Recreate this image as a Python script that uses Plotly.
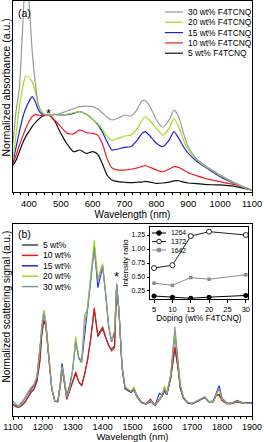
import plotly.graph_objects as go

# ---------------- Panel (a): absorbance ----------------
wl_a = [350, 360, 370, 380, 390, 400, 410, 420, 430, 440, 450, 460, 470, 480, 490, 500,
        520, 540, 560, 580, 600,
        615, 630, 645, 660, 680, 700, 720, 740, 755, 765, 780, 800, 820, 840, 855, 870, 885, 900,
        925, 950, 975, 1000, 1025, 1050, 1075, 1100]
abs_5 = [14.1, 16.8, 21.1, 25.5, 29.0, 31.6, 34.2, 36.3, 38.0, 39.4, 40.1, 40.3, 39.4, 37.3, 34.2, 30.7,
         25.1, 21.1, 22.0, 20.2, 21.1,
         19.9, 15.0, 8.9, 6.3, 5.4, 5.1, 4.9, 5.1, 5.2, 5.6, 5.2, 4.5, 4.7, 5.2, 5.8, 5.9, 5.2, 4.7,
         4.4, 4.0, 3.8, 3.7, 3.3, 2.8, 1.9, 1.0]
abs_10 = [15.0, 19.4, 24.6, 29.0, 33.3, 36.8, 39.4, 40.5, 40.3, 40.0, 40.1, 40.3, 39.4, 37.7, 36.0, 34.2,
          30.7, 30.4, 32.5, 31.1, 30.7,
          29.8, 25.5, 17.6, 12.7, 11.5, 11.5, 11.9, 12.6, 13.4, 13.8, 12.9, 11.5, 10.6, 12.0, 13.3, 12.9, 11.5, 10.1,
          8.6, 7.2, 6.3, 5.4, 4.5, 3.7, 2.4, 1.0]
abs_15 = [15.9, 23.7, 31.6, 38.6, 43.8, 47.3, 49.9, 47.3, 42.9, 40.8, 40.3, 40.3, 40.5, 40.7, 40.5, 40.3,
          40.5, 41.2, 42.1, 40.7, 38.0,
          35.6, 31.6, 26.4, 22.0, 22.5, 23.4, 23.7, 27.2, 30.7, 31.6, 29.3, 25.5, 23.7, 27.2, 31.6, 28.1, 23.7, 20.2,
          16.4, 13.3, 10.6, 8.0, 5.9, 4.0, 2.4, 1.0]
abs_20 = [16.8, 30.7, 44.7, 54.3, 60.7, 60.0, 57.8, 52.5, 45.5, 42.1, 40.7, 40.3, 40.5, 40.7, 40.5, 40.3,
          40.7, 41.5, 42.1, 40.7, 38.0,
          36.0, 32.8, 29.3, 27.2, 28.1, 29.3, 29.8, 33.3, 37.7, 39.4, 37.3, 33.3, 29.8, 33.3, 38.6, 34.2, 27.2, 22.0,
          17.1, 13.8, 11.2, 8.6, 6.3, 4.2, 2.4, 1.0]
abs_30 = [25.5, 42.9, 54.3, 85.0, 115.0, 100.0, 74.3, 56.9, 45.5, 41.5, 40.3, 40.3, 40.1, 40.3, 40.7, 41.2,
          42.4, 43.6, 44.7, 45.0, 44.7,
          43.6, 41.5, 39.1, 37.7, 38.6, 40.3, 39.8, 43.3, 47.8, 47.8, 44.7, 37.7, 33.9, 37.7, 42.9, 39.4, 30.7, 23.7,
          17.6, 14.1, 11.5, 8.9, 6.6, 4.5, 2.6, 1.0]

# ---------------- Panel (b): scattering ----------------
wl_b = [1100, 1110, 1120, 1130, 1140, 1150, 1160, 1170, 1180, 1190, 1196, 1203, 1210, 1220, 1230, 1240, 1250,
        1258, 1264, 1270, 1280, 1290, 1300, 1310, 1320, 1330, 1340, 1350, 1360, 1372, 1384, 1400, 1410, 1420,
        1430, 1440, 1447, 1455, 1465, 1475, 1485, 1495, 1505, 1515, 1530, 1545, 1560, 1575, 1590, 1600, 1607,
        1615, 1628, 1642, 1652, 1660, 1670, 1685, 1700, 1720, 1742, 1755, 1770, 1780, 1790, 1800, 1815, 1830,
        1850, 1865, 1880, 1900]
sc_5 = [35, 28, 26, 32, 41, 56, 70, 79, 103, 163, 238, 285, 270, 171, 79, 44, 42,
        86, 140, 111, 50, 76, 101, 128, 101, 90, 125, 168, 228, 318, 238, 261, 235, 211,
        201, 211, 391, 308, 146, 82, 76, 71, 78, 57, 40, 36, 48, 32, 47, 61, 76,
        63, 113, 203, 145, 82, 54, 39, 36, 45, 56, 42, 42, 61, 65, 46, 37, 37,
        42, 39, 38, 37]
sc_10 = [33, 30, 25, 33, 43, 58, 73, 81, 105, 168, 243, 288, 273, 173, 81, 45, 43,
         88, 143, 113, 51, 78, 103, 133, 103, 93, 128, 173, 233, 325, 243, 268, 238, 213,
         195, 205, 393, 311, 148, 83, 77, 73, 80, 58, 41, 37, 51, 33, 49, 63, 78,
         65, 115, 208, 148, 83, 55, 40, 36, 46, 58, 43, 43, 63, 63, 47, 37, 37,
         43, 40, 38, 38]
sc_15 = [45, 33, 30, 40, 53, 68, 81, 91, 115, 198, 268, 315, 281, 175, 81, 45, 46,
         95, 158, 123, 61, 93, 141, 228, 173, 161, 243, 323, 413, 508, 385, 448, 368, 268,
         223, 251, 393, 311, 148, 85, 78, 71, 83, 61, 41, 35, 43, 31, 68, 61, 85,
         66, 121, 248, 161, 91, 55, 40, 37, 46, 55, 43, 45, 68, 91, 53, 40, 38,
         47, 41, 41, 40]
sc_20 = [43, 36, 28, 38, 58, 73, 86, 95, 118, 203, 273, 318, 283, 178, 83, 46, 45,
         93, 148, 118, 58, 85, 143, 238, 178, 163, 273, 333, 423, 528, 413, 458, 373, 273,
         228, 253, 395, 313, 153, 88, 81, 73, 88, 58, 43, 36, 46, 33, 48, 63, 91,
         68, 123, 253, 163, 93, 58, 41, 38, 48, 58, 43, 43, 63, 81, 51, 38, 38,
         45, 41, 38, 38]
sc_30 = [40, 35, 27, 37, 55, 70, 83, 93, 116, 201, 271, 311, 278, 173, 81, 45, 44,
         91, 145, 116, 57, 83, 140, 223, 175, 168, 305, 318, 408, 501, 403, 451, 368, 271,
         225, 255, 398, 315, 151, 86, 79, 75, 81, 59, 42, 37, 45, 33, 51, 65, 83,
         67, 125, 268, 168, 91, 57, 42, 38, 47, 57, 45, 43, 65, 83, 51, 39, 38,
         45, 42, 39, 38]

# ---------------- Inset: intensity ratios ----------------
doping = [5, 10, 15, 20, 30]
ratio_1264 = [0.16, 0.14, 0.12, 0.14, 0.17]
ratio_1372 = [0.66, 0.71, 1.23, 1.31, 1.25]
ratio_1642 = [0.39, 0.35, 0.49, 0.46, 0.54]

labels_a = ["5 wt% F4TCNQ", "10 wt% F4TCNQ", "15 wt% F4TCNQ", "20 wt% F4TCNQ", "30 wt% F4TCNQ"]
labels_b = ["5 wt%", "10 wt%", "15 wt%", "20 wt%", "30 wt%"]
colors_a = ["#111111", "#ee1c24", "#1f1fe6", "#9de01a", "#9a9a9a"]
colors_b = ["#444444", "#e8141c", "#2222e0", "#96dc14", "#8a9696"]

FONT = "Arial, 'Liberation Sans', sans-serif"
W, H = 264, 442
L, R, T, B = 13, 12, 1, 26
PW, PH = W - L - R, H - T - B


def fx(p):  # pixel x -> paper
    return (p - L) / PW


def fy(p):  # pixel y -> paper
    return (H - B - p) / PH


fig = go.Figure()

series_a = [abs_5, abs_10, abs_15, abs_20, abs_30]
for lab, col, ys in zip(labels_a, colors_a, series_a):
    fig.add_trace(go.Scatter(x=wl_a, y=ys, mode="lines", name=lab, xaxis="x", yaxis="y",
                             line=dict(color=col, width=1.2, shape="spline", smoothing=0.6),
                             showlegend=False))

series_b = [sc_5, sc_10, sc_15, sc_20, sc_30]
for lab, col, ys in zip(labels_b, colors_b, series_b):
    fig.add_trace(go.Scatter(x=wl_b, y=ys, mode="lines", name=lab, xaxis="x2", yaxis="y2",
                             line=dict(color=col, width=1.1), showlegend=False))

inset = [("1264", ratio_1264, "#000000", dict(symbol="circle", size=5, color="#000000")),
         ("1372", ratio_1372, "#222222", dict(symbol="circle", size=5, color="white",
                                              line=dict(color="#222222", width=1))),
         ("1642", ratio_1642, "#8a8a8a", dict(symbol="square", size=3.5, color="#8a8a8a"))]
for lab, ys, col, mk in inset:
    fig.add_trace(go.Scatter(x=doping, y=ys, mode="lines+markers", name=lab, xaxis="x3", yaxis="y3",
                             line=dict(color=col, width=1), marker=mk, showlegend=False))

axis_common = dict(showline=True, linecolor="black", linewidth=1, mirror=True, showgrid=False,
                   zeroline=False, automargin=False, tickcolor="black")

fig.update_layout(
    width=W, height=H, margin=dict(l=L, r=R, t=T, b=B),
    paper_bgcolor="white", plot_bgcolor="white",
    font=dict(family=FONT, color="black", size=10),
    xaxis=dict(axis_common, domain=[0, 1], anchor="y", range=[350, 1100], dtick=100, tick0=0,
               ticks="outside", ticklen=3, tickfont=dict(size=9.5),
               minor=dict(dtick=25, ticks="outside", ticklen=2, tickcolor="black"),
               title=dict(text="Wavelength (nm)", font=dict(size=10), standoff=0)),
    yaxis=dict(axis_common, domain=[fy(192), fy(1)], anchor="x", range=[0, 100],
               showticklabels=False, ticks=""),
    xaxis2=dict(axis_common, domain=[0, 1], anchor="y2", range=[1100, 1900], dtick=100, tick0=0,
                ticks="outside", ticklen=2.5, tickfont=dict(size=9),
                minor=dict(dtick=20, ticks="outside", ticklen=2, tickcolor="black"),
                title=dict(text="Wavelength (nm)", font=dict(size=9.5), standoff=1)),
    yaxis2=dict(axis_common, domain=[0, fy(224)], anchor="x2", range=[0, 576],
                showticklabels=False, ticks=""),
    xaxis3=dict(axis_common, domain=[fx(150), fx(248)], anchor="y3", range=[3.9, 30.6],
                tickvals=[5, 10, 15, 20, 25, 30], ticks="outside", ticklen=2.5,
                tickfont=dict(size=7.5),
                title=dict(text="Doping (wt% F4TCNQ)", font=dict(size=8.3), standoff=0)),
    yaxis3=dict(axis_common, domain=[fy(299), fy(227)], anchor="x3", range=[0.107, 1.393],
                tickvals=[0.25, 0.5, 0.75, 1.0, 1.25], tickformat=".2f", ticks="outside", ticklen=2.5,
                tickfont=dict(size=7),
                title=dict(text="Intensity ratio", font=dict(size=8), standoff=1)),
)

annotations = [
    dict(text="Normalized absorbance (a.u.)", textangle=-90, x=fx(5.5), y=fy(88), xref="paper",
         yref="paper", xanchor="center", yanchor="middle", showarrow=False, font=dict(size=10.5)),
    dict(text="Normalized scattering signal (a.u.)", textangle=-90, x=fx(5.5), y=fy(307), xref="paper",
         yref="paper", xanchor="center", yanchor="middle", showarrow=False, font=dict(size=10)),
    dict(text="(a)", x=fx(16), y=fy(13), xref="paper", yref="paper", xanchor="left", yanchor="middle",
         showarrow=False, font=dict(size=10.5)),
    dict(text="(b)", x=fx(16), y=fy(234), xref="paper", yref="paper", xanchor="left", yanchor="middle",
         showarrow=False, font=dict(size=10.5)),
    dict(text="*", x=461, y=41, xref="x", yref="y", showarrow=False, font=dict(size=13)),
    dict(text="*", x=1448, y=418, xref="x2", yref="y2", showarrow=False, font=dict(size=13)),
]
shapes = []

# legend (a): top-right, 30 wt% first
row_y0, row_dy = 12, 10.3
for i, k in enumerate(reversed(range(5))):
    yy = fy(row_y0 + i * row_dy)
    shapes.append(dict(type="line", xref="paper", yref="paper", x0=fx(165), x1=fx(183), y0=yy, y1=yy,
                       line=dict(color=colors_a[k], width=1.2)))
    annotations.append(dict(text=labels_a[k], x=fx(186), y=yy, xref="paper", yref="paper",
                            xanchor="left", yanchor="middle", showarrow=False, font=dict(size=8.4)))

# legend (b): top-left, 5 wt% first
row_y0, row_dy = 245, 10.4
for i in range(5):
    yy = fy(row_y0 + i * row_dy)
    shapes.append(dict(type="line", xref="paper", yref="paper", x0=fx(22), x1=fx(38), y0=yy, y1=yy,
                       line=dict(color=colors_b[i], width=1.5)))
    annotations.append(dict(text=labels_b[i], x=fx(41), y=yy, xref="paper", yref="paper",
                            xanchor="left", yanchor="middle", showarrow=False, font=dict(size=8.5)))

# inset legend
row_y0, row_dy = 233, 8.5
for i, (lab, ys, col, mk) in enumerate(inset):
    yy = fy(row_y0 + i * row_dy)
    shapes.append(dict(type="line", xref="paper", yref="paper", x0=fx(152), x1=fx(166), y0=yy, y1=yy,
                       line=dict(color=col, width=1)))
    kind = "rect" if mk["symbol"] == "square" else "circle"
    r = 1.7 if kind == "rect" else 2.3
    fill = mk["color"]
    shapes.append(dict(type=kind, xref="paper", yref="paper", xsizemode="pixel", ysizemode="pixel",
                       xanchor=fx(159), yanchor=yy, x0=-r, x1=r, y0=-r, y1=r,
                       fillcolor=fill, line=dict(color=col, width=1)))
    annotations.append(dict(text=lab, x=fx(169), y=yy, xref="paper", yref="paper",
                            xanchor="left", yanchor="middle", showarrow=False, font=dict(size=6.8)))

fig.update_layout(annotations=annotations, shapes=shapes)

fig.write_html("out.html", config={"displayModeBar": False},
               post_script="document.body.style.margin='0';")
